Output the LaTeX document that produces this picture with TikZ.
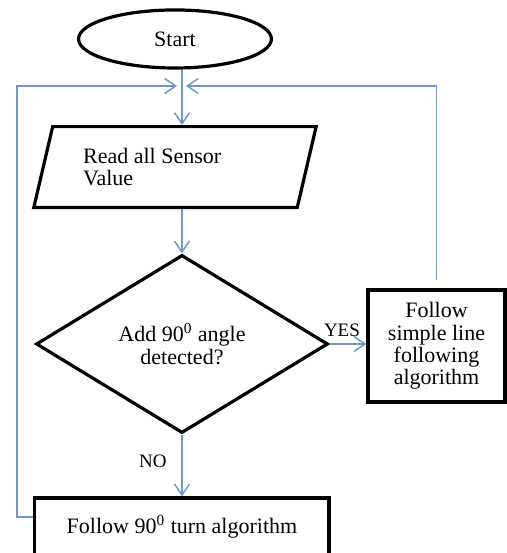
\documentclass[tikz,border=0pt]{standalone}
\usepackage{fontspec}
\setmainfont{Liberation Serif}
\usepackage{tikz}
\usetikzlibrary{shapes.geometric,arrows.meta,positioning,calc}
\definecolor{flowblue}{RGB}{112,152,206}

\begin{document}
\begin{tikzpicture}[
  terminal/.style = {ellipse, draw=black, line width=1.6pt,
                     minimum width=3.39cm, minimum height=1.02cm,
                     font=\fontsize{11}{11.5}\selectfont},
  inout/.style    = {trapezium, trapezium left angle=73.5, trapezium right angle=106.5,
                     trapezium stretches=true, draw=black, line width=1.6pt,
                     minimum width=4.97cm, minimum height=1.42cm,
                     text width=3.23cm, align=flush left,
                     font=\fontsize{11}{11.2}\selectfont},
  decision/.style = {diamond, draw=black, line width=1.6pt, inner sep=0pt,
                     minimum width=5.13cm, minimum height=3.13cm,
                     font=\fontsize{11}{11.2}\selectfont, align=center},
  process/.style  = {rectangle, draw=black, line width=1.6pt,
                     font=\fontsize{11}{11.2}\selectfont, align=center},
  arr/.style      = {-{Straight Barb[length=5.5pt,width=7.5pt]}, flowblue, line width=0.75pt},
  lbl/.style      = {text=black, font=\fontsize{9.5}{10}\selectfont}
]
\useasboundingbox (0,0) rectangle (8.892,-9.718);

\node[terminal] (start)  at (3.075,-0.685) {Start};
\node[inout]    (read)   at (3.075,-2.935) {Read all Sensor\\Value};
\node[decision] (detect) at (3.198,-6.045) {Add 90\textsuperscript{0} angle\\detected?};
\node[process, minimum width=2.41cm, minimum height=1.97cm]
                (simple) at (7.671,-6.080) {Follow\\simple line\\following\\algorithm};
\node[process, minimum width=5.17cm, minimum height=1.02cm]
                (turn)   at (3.198,-9.261) {Follow 90\textsuperscript{0} turn algorithm};

\coordinate (join)  at (3.198,-1.511);
\coordinate (lbend) at (0.299,-1.511);

\draw[arr] (start.south -| join) -- (read.north -| join);
\draw[arr] (read.south -| join)  -- (detect.north);

\draw[arr] (detect.east)  -- node[above, lbl, xshift=-3pt]{YES} (detect.east -| simple.west);
\draw[arr] (detect.south) -- node[left, lbl, xshift=-4pt, yshift=2pt]{NO} (turn.north);

\draw[arr, shorten <=4pt] (simple.north) -- (simple.north |- join) -- ([xshift=2pt]join);
\draw[arr] ([yshift=5pt]turn.west) -| (lbend) -- ([xshift=-2.5pt]join);
\end{tikzpicture}
\end{document}
